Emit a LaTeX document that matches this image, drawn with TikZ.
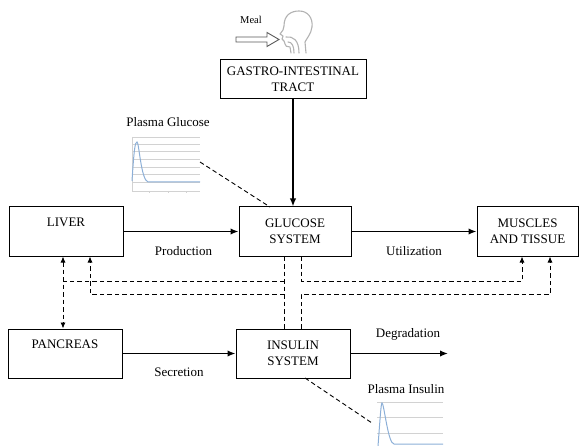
\documentclass[tikz,border=0pt]{standalone}
\usepackage{fontspec}
\setmainfont{Liberation Serif}
\usepackage{tikz}
\usetikzlibrary{arrows.meta}
\definecolor{plotblue}{RGB}{140,175,215}

\begin{document}
\begin{tikzpicture}[x=1pt,y=-1pt,auto,
  block/.style ={rectangle, draw, line width=1pt, inner sep=0pt, minimum height=49pt,
                 font=\fontsize{13}{16.5}\selectfont},
  twoline/.style ={block, align=center},
  single/.style ={text height=9pt, text depth=19pt},
  tag/.style ={inner sep=0pt, font=\fontsize{13}{15}\selectfont},
  flow/.style ={line width=1.7pt, -{Latex[length=8pt,width=6.5pt]}},
  link/.style ={line width=0.9pt, dash pattern=on 4.5pt off 3pt},
  signal/.style ={link, -{Latex[length=6pt,width=5pt]}},
  grid/.style ={gray!35, line width=0.6pt},
  curve/.style ={plotblue, line width=1pt},
  face/.style ={gray!60, line width=1.1pt, line join=round, line cap=round}]
 \useasboundingbox (0,0) rectangle (580,446);

 \node[twoline, minimum width=146pt, minimum height=39pt] (GIT) at (293,79.5) {GASTRO-INTESTINAL\\TRACT};
 \node[twoline, minimum width=112pt] (GLU) at (295,231.5) {GLUCOSE\\SYSTEM};
 \node[block, single, minimum width=114pt] (LIV) at (66,231.5) {LIVER};
 \node[twoline, minimum width=101pt] (MUS) at (527.5,231.5) {MUSCLES\\AND TISSUE};
 \node[block, single, minimum width=114pt] (PAN) at (65,353.5) {PANCREAS};
 \node[twoline, minimum width=114pt] (INS) at (293,353.5) {INSULIN\\SYSTEM};

 \node[tag] (prod) at (183.5,251) {Production};
 \node[tag] (util) at (414,251) {Utilization};
 \node[tag] (secr) at (179,372) {Secretion};
 \node[tag] (degr) at (408,334) {Degradation};
 \node[tag] (pglu) at (168,122) {Plasma Glucose};
 \node[tag] (pins) at (406,389) {Plasma Insulin};
 \node[inner sep=0pt, font=\fontsize{10.5}{12}\selectfont] (meal) at (251,20) {Meal};

 % meal and head
 \draw[gray!70!black, line width=0.9pt, line join=miter]
   (236,37) -- (267,37) -- (267,32.5) -- (279,39.5) -- (267,46.5) -- (267,42) -- (236,42) -- cycle;
 \draw[face] (291,53) -- (290,47) .. controls (287,47) and (285,46) .. (285,44) -- (284,41)
   -- (282,39) -- (283,36) -- (280,34) -- (283,30) -- (284,26)
   .. controls (284,15) and (291,11) .. (299,11) .. controls (308,11) and (313,18) .. (312,27)
   .. controls (311,34) and (307,38) .. (305,42) -- (306,53);
 \draw[face] (286,37) .. controls (293,36) and (299,40) .. (299,53);
 \draw[face] (288,42) .. controls (292,42) and (294,46) .. (294,53);

 % plasma glucose chart
 \foreach \y in {137,144,151,159,167,174,182,191}
   \draw[grid] (132,\y) -- (200,\y);
 \draw[grid] (132,137) -- (132,191);
 \foreach \x in {149,168,186}
   \draw[grid] (\x,191) -- (\x,193);
 \draw[curve] (132,181) .. controls (134,150) and (135,142) .. (137,142)
   .. controls (139,142) and (141,180) .. (148,182) -- (200,182);
 \coordinate (gc) at (200,162);
 \coordinate (gt) at (270,207);

 % plasma insulin chart
 \foreach \y in {402,417,433}
   \draw[grid] (377,\y) -- (443,\y);
 \draw[curve] (378,446) .. controls (380,420) and (381,403) .. (382,403)
   .. controls (384,403) and (388,444) .. (394,444) -- (443,444);
 \coordinate (ic) at (372,423);
 \coordinate (ib) at (305,378);

 \draw[flow] (GIT.south) to (GIT.south |- GLU.north);
 \draw[flow] (LIV) to (GLU);
 \draw[flow] (GLU) to (MUS);
 \draw[flow] (PAN) to (INS);
 \coordinate (deg) at (448,353.5);
 \draw[flow] (INS) to (deg);

 \coordinate (gl) at (284,281);
 \coordinate (gr) at (301,281);
 \coordinate (il) at (284,294);
 \coordinate (ir) at (301,294);
 \coordinate (lp) at (63,281);
 \coordinate (lv) at (90,294);
 \coordinate (m1) at (522,281);
 \coordinate (m2) at (550,294);

 \draw[link] (gc) to (gt);
 \draw[link] (ib) to (ic);
 \draw[link] (GLU.south -| gl) to (INS.north -| gl);
 \draw[link] (gl) to (lp);
 \draw[link, {Latex[length=6pt,width=5pt]}-{Latex[length=6pt,width=5pt]}] (LIV.south -| lp) to (PAN.north -| lp);
 \draw[signal] (il) -| (LIV.south -| lv);
 \draw[signal] (GLU.south -| gr) |- (m1) -- (MUS.south -| m1);
 \draw[signal] (INS.north -| ir) |- (m2) -- (MUS.south -| m2);
\end{tikzpicture}
\end{document}
